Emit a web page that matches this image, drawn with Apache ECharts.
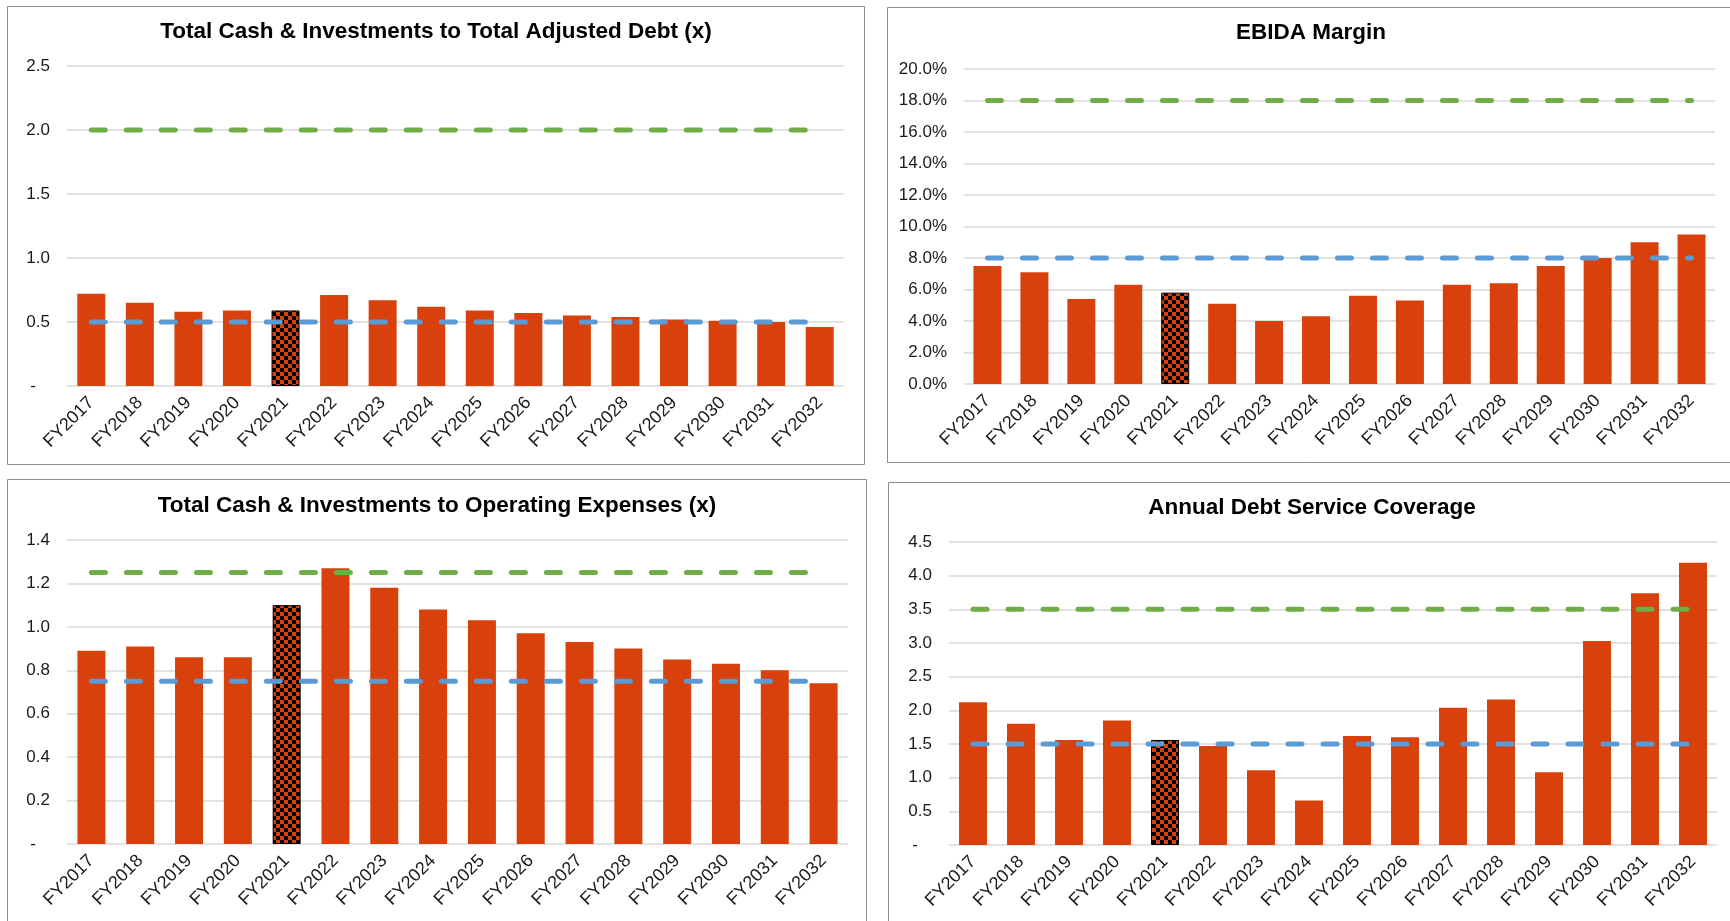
<!DOCTYPE html>
<html>
<head>
<meta charset="utf-8">
<title>Financial Ratios</title>
<script src="https://cdn.jsdelivr.net/npm/echarts@6/dist/echarts.min.js"></script>
<style>
  html, body { margin: 0; padding: 0; background: #fff; }
  #main { width: 1730px; height: 921px; }
</style>
</head>
<body>
<div id="main"></div>
<script>
const years = ['FY2017', 'FY2018', 'FY2019', 'FY2020', 'FY2021', 'FY2022', 'FY2023', 'FY2024',
               'FY2025', 'FY2026', 'FY2027', 'FY2028', 'FY2029', 'FY2030', 'FY2031', 'FY2032'];
const actualYear = 'FY2021';

// bar values
const cashToDebt   = [0.72, 0.65, 0.58, 0.59, 0.59, 0.71, 0.67, 0.62, 0.59, 0.57, 0.55, 0.54, 0.52, 0.51, 0.50, 0.46];
const ebidaMargin  = [0.075, 0.071, 0.054, 0.063, 0.058, 0.051, 0.040, 0.043, 0.056, 0.053, 0.063, 0.064, 0.075, 0.080, 0.090, 0.095];
const cashToOpex   = [0.89, 0.91, 0.86, 0.86, 1.10, 1.27, 1.18, 1.08, 1.03, 0.97, 0.93, 0.90, 0.85, 0.83, 0.80, 0.74];
const debtCoverage = [2.12, 1.80, 1.56, 1.85, 1.56, 1.47, 1.11, 0.66, 1.62, 1.60, 2.04, 2.16, 1.08, 3.03, 3.74, 4.19];

// threshold lines: [green, blue]
const debtTargets     = [2.0, 0.5];
const marginTargets   = [0.18, 0.08];
const opexTargets     = [1.25, 0.75];
const coverageTargets = [3.5, 1.5];

const BAR = '#D8400C';
const GREEN = '#70AD47';
const BLUE = '#5B9BD5';
const FONT = '"Liberation Sans", Arial, sans-serif';

// checkered fill for the actual year
function makeChecker() {
  const c = document.createElement('canvas');
  const s = 4;
  c.width = s * 2; c.height = s * 2;
  const ctx = c.getContext('2d');
  ctx.fillStyle = BAR;
  ctx.fillRect(0, 0, s * 2, s * 2);
  ctx.fillStyle = '#000';
  ctx.fillRect(0, 0, s, s);
  ctx.fillRect(s, s, s, s);
  return c;
}
const checker = { image: makeChecker(), repeat: 'repeat' };

function decFmt(v) { return v === 0 ? '-   ' : v.toFixed(1); }
function pctFmt(v) { return (v * 100).toFixed(1) + '%'; }

const panels = [
  { title: 'Total Cash & Investments to Total Adjusted Debt (x)', tx: 436, ty: 32,
    grid: { left: 67, top: 66, width: 777, height: 320 },
    max: 2.5, interval: 0.5, fmt: decFmt, data: cashToDebt, targets: debtTargets },
  { title: 'EBIDA Margin', tx: 1311, ty: 33,
    grid: { left: 964, top: 69, width: 751, height: 315 },
    max: 0.2, interval: 0.02, fmt: pctFmt, data: ebidaMargin, targets: marginTargets },
  { title: 'Total Cash & Investments to Operating Expenses (x)', tx: 437, ty: 506,
    grid: { left: 67, top: 540, width: 781, height: 304 },
    max: 1.4, interval: 0.2, fmt: decFmt, data: cashToOpex, targets: opexTargets },
  { title: 'Annual Debt Service Coverage', tx: 1312, ty: 508,
    grid: { left: 949, top: 542, width: 768, height: 303 },
    max: 4.5, interval: 0.5, fmt: decFmt, data: debtCoverage, targets: coverageTargets }
];

const grids = [], xAxes = [], yAxes = [], series = [];
panels.forEach((p, i) => {
  grids.push(Object.assign({ containLabel: false }, p.grid));
  xAxes.push({
    type: 'category', gridIndex: i, data: years,
    axisLine: { show: false }, axisTick: { show: false },
    axisLabel: { interval: 0, rotate: 45, margin: 14, fontSize: 18, fontFamily: FONT, color: '#1a1a1a' }
  });
  yAxes.push({
    type: 'value', gridIndex: i, min: 0, max: p.max, interval: p.interval,
    axisLine: { show: false }, axisTick: { show: false },
    axisLabel: { formatter: p.fmt, margin: 17, fontSize: 17, fontFamily: FONT, color: '#1a1a1a' },
    splitLine: { lineStyle: { color: '#D9D9D9', width: 1.5 } }
  });
  series.push({
    type: 'bar', xAxisIndex: i, yAxisIndex: i, barWidth: 28,
    itemStyle: { color: BAR },
    data: p.data.map((v, k) => years[k] === actualYear
      ? { value: v, itemStyle: { color: checker, borderColor: '#000', borderWidth: 1 } }
      : v)
  });
  [GREEN, BLUE].forEach((col, k) => {
    series.push({
      type: 'line', xAxisIndex: i, yAxisIndex: i, symbol: 'none', silent: true, z: 5,
      lineStyle: { color: col, width: 5, type: [14, 21], cap: 'round' },
      data: [[years[0], p.targets[k]], [years[years.length - 1], p.targets[k]]]
    });
  });
});

const frames = [
  { x: 7.5, y: 6.5, w: 857, h: 458 },
  { x: 887.5, y: 7.5, w: 860, h: 455 },
  { x: 7.5, y: 479.5, w: 859, h: 460 },
  { x: 888.5, y: 482.5, w: 860, h: 460 }
];

const graphic = frames.map(f => ({
  type: 'rect', silent: true, z: -1,
  shape: { x: f.x, y: f.y, width: f.w, height: f.h },
  style: { fill: 'none', stroke: '#8C8C8C', lineWidth: 1 }
})).concat(panels.map(p => ({
  type: 'text', silent: true, x: p.tx, y: p.ty,
  style: { text: p.title, font: 'bold 22.5px ' + FONT, fill: '#000', align: 'center', verticalAlign: 'middle' }
})));

const myChart = echarts.init(document.getElementById('main'));
myChart.setOption({
  animation: false,
  backgroundColor: '#fff',
  grid: grids,
  xAxis: xAxes,
  yAxis: yAxes,
  series: series,
  graphic: graphic
});
</script>
</body>
</html>
